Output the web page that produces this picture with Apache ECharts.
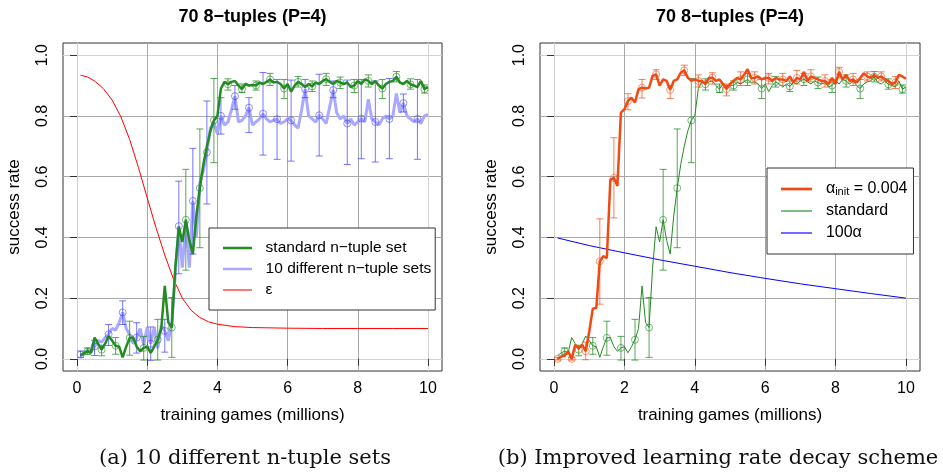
<!DOCTYPE html>
<html><head><meta charset="utf-8">
<script src="https://cdn.jsdelivr.net/npm/echarts@6/dist/echarts.min.js"></script>
<style>html,body{margin:0;padding:0;background:#fff}#c{width:943px;height:473px}</style>
</head><body><div id="c"></div><script>
// ---- data (training games in millions, success rate) ----
const gamesM = [0.1,0.2,0.3,0.4,0.5,0.6,0.7,0.8,0.9,1.0,
 1.1,1.2,1.3,1.4,1.5,1.6,1.7,1.8,1.9,2.0,
 2.1,2.2,2.3,2.4,2.5,2.6,2.7,2.8,2.9,3.0,
 3.1,3.2,3.3,3.4,3.5,3.6,3.7,3.8,3.9,4.0,
 4.1,4.2,4.3,4.4,4.5,4.6,4.7,4.8,4.9,5.0,
 5.1,5.2,5.3,5.4,5.5,5.6,5.7,5.8,5.9,6.0,
 6.1,6.2,6.3,6.4,6.5,6.6,6.7,6.8,6.9,7.0,
 7.1,7.2,7.3,7.4,7.5,7.6,7.7,7.8,7.9,8.0,
 8.1,8.2,8.3,8.4,8.5,8.6,8.7,8.8,8.9,9.0,
 9.1,9.2,9.3,9.4,9.5,9.6,9.7,9.8,9.9,10.0];
const standardSet = [0.010,0.020,0.025,0.020,0.070,0.050,0.030,0.050,0.075,0.060,
 0.043,0.040,0.005,0.040,0.069,0.070,0.040,0.025,0.036,0.040,
 0.020,0.040,0.063,0.100,0.240,0.120,0.103,0.300,0.435,0.385,
 0.458,0.390,0.345,0.470,0.562,0.640,0.700,0.750,0.785,0.800,
 0.890,0.912,0.904,0.912,0.915,0.900,0.888,0.905,0.900,0.902,
 0.900,0.910,0.905,0.912,0.920,0.910,0.912,0.905,0.890,0.905,
 0.880,0.900,0.912,0.905,0.895,0.905,0.897,0.910,0.905,0.915,
 0.921,0.912,0.905,0.915,0.910,0.905,0.910,0.895,0.900,0.915,
 0.905,0.920,0.915,0.905,0.915,0.900,0.890,0.905,0.912,0.915,
 0.929,0.910,0.905,0.915,0.904,0.900,0.895,0.915,0.888,0.895];
const tenSets = [0.014,0.015,0.030,0.025,0.041,0.060,0.055,0.070,0.081,0.100,
 0.095,0.120,0.153,0.100,0.080,0.050,0.070,0.100,0.045,0.105,
 0.050,0.105,0.035,0.110,0.092,0.060,0.120,0.280,0.437,0.300,
 0.450,0.300,0.520,0.400,0.580,0.620,0.680,0.760,0.780,0.740,
 0.800,0.770,0.780,0.820,0.865,0.780,0.785,0.800,0.827,0.770,
 0.780,0.790,0.807,0.790,0.780,0.785,0.789,0.775,0.780,0.790,
 0.785,0.770,0.760,0.820,0.888,0.800,0.790,0.780,0.802,0.790,
 0.775,0.830,0.885,0.810,0.790,0.800,0.775,0.790,0.770,0.780,
 0.791,0.780,0.855,0.790,0.780,0.770,0.790,0.800,0.790,0.800,
 0.874,0.810,0.842,0.800,0.790,0.780,0.790,0.775,0.800,0.805];
const alphaInit = [0.000,0.008,0.010,0.025,0.000,0.046,0.035,0.046,0.025,0.090,
 0.165,0.168,0.321,0.338,0.332,0.590,0.596,0.569,0.811,0.822,
 0.849,0.860,0.844,0.888,0.893,0.890,0.893,0.932,0.937,0.900,
 0.920,0.915,0.886,0.915,0.920,0.942,0.950,0.926,0.915,0.920,
 0.915,0.915,0.905,0.925,0.926,0.915,0.920,0.905,0.888,0.905,
 0.915,0.925,0.920,0.935,0.954,0.925,0.925,0.930,0.920,0.925,
 0.925,0.915,0.925,0.920,0.920,0.915,0.930,0.910,0.925,0.920,
 0.945,0.915,0.930,0.925,0.920,0.915,0.915,0.905,0.925,0.905,
 0.945,0.920,0.935,0.915,0.920,0.910,0.925,0.940,0.930,0.925,
 0.935,0.925,0.930,0.920,0.915,0.905,0.910,0.935,0.930,0.922];

// error bars (marker positions)
const stdErrGames = [0.3,0.7,1.1,1.5,1.9,2.3,2.7,3.1,3.5,3.9,4.3,4.7,5.1,5.5,5.9,6.3,6.7,7.1,7.5,7.9,8.3,8.7,9.1,9.5,9.9];
const stdErrLo = [0.015,0.010,0.015,0.012,-0.004,-0.004,0.005,0.292,0.366,0.646,0.885,0.877,0.885,0.900,0.857,0.895,0.880,0.900,0.890,0.877,0.895,0.857,0.912,0.888,0.875];
const stdErrHi = [0.036,0.045,0.070,0.124,0.074,0.130,0.202,0.624,0.757,0.923,0.922,0.905,0.915,0.940,0.920,0.930,0.915,0.940,0.928,0.920,0.935,0.920,0.946,0.922,0.902];
const tenErrGames = [0.1,0.5,0.9,1.3,1.7,2.1,2.5,2.9,3.3,3.7,4.1,4.5,4.9,5.3,5.7,6.1,6.5,6.9,7.3,7.7,8.1,8.5,8.9,9.3,9.7];
const tenErrLo = [0.005,0.011,0.044,0.113,0.019,-0.005,0.022,0.280,0.345,0.510,0.740,0.822,0.745,0.671,0.657,0.651,0.860,0.668,0.860,0.640,0.659,0.648,0.659,0.813,0.657];
const tenErrHi = [0.026,0.061,0.113,0.191,0.119,0.105,0.130,0.585,0.693,0.849,0.860,0.900,0.860,0.943,0.920,0.918,0.920,0.937,0.915,0.918,0.920,0.915,0.923,0.872,0.920];
const aErrGames = [0.1,0.5,0.9,1.3,1.7,2.1,2.5,2.9,3.3,3.7,4.1,4.5,4.9,5.3,5.7,6.1,6.5,6.9,7.3,7.7,8.1,8.5,8.9,9.3,9.7];
const aErrLo = [-0.004,-0.004,-0.003,0.180,0.464,0.820,0.859,0.920,0.857,0.933,0.895,0.905,0.866,0.900,0.905,0.905,0.900,0.905,0.912,0.895,0.925,0.900,0.915,0.915,0.890];
const aErrHi = [0.004,0.004,0.055,0.461,0.728,0.873,0.920,0.952,0.900,0.967,0.935,0.942,0.905,0.945,0.945,0.940,0.940,0.950,0.952,0.935,0.960,0.940,0.945,0.945,0.930];

// exploration rate epsilon (left) and 100*alpha (right)
const epsGames = [0.1,0.3,0.5,0.75,1.0,1.25,1.5,1.75,2.0,2.25,2.5,2.75,3.0,3.25,3.5,3.75,4.0,4.5,5.0,6.0,7.0,8.0,9.0,10.0];
const epsValues = [0.934,0.928,0.915,0.890,0.852,0.797,0.722,0.630,0.530,0.432,0.342,0.262,0.200,0.160,0.136,0.122,0.114,0.106,0.103,0.101,0.100,0.100,0.100,0.100];
const alphaGames = [0.1,1,2,3,4,5,6,7,8,9,10];
const alpha100 = [0.398,0.373,0.349,0.326,0.305,0.284,0.265,0.247,0.231,0.215,0.200];

const xTicks = [0,2,4,6,8,10];
const yTicks = [0,0.2,0.4,0.6,0.8,1.0];

// ---- helpers ----
const FONT = '"Liberation Sans", Arial, Helvetica, sans-serif';
const zip = (xs, ys) => xs.map((x, i) => [x, ys[i]]);
const valAt = (arr, x) => arr[gamesM.findIndex(g => Math.abs(g - x) < 1e-9)];
const markers = (arr, xs) => xs.map(x => [x, valAt(arr, x)]);
const errData = (xs, lo, hi) => xs.map((x, i) => [x, lo[i], hi[i]]);

function errRender(color) {
  return function (params, api) {
    const x = api.value(0), lo = api.value(1), hi = api.value(2);
    const a = api.coord([x, lo]), b = api.coord([x, hi]);
    const w = 3.5;
    const st = {stroke: color, lineWidth: 1, fill: null};
    return {type: 'group', children: [
      {type: 'line', shape: {x1: a[0], y1: a[1], x2: b[0], y2: b[1]}, style: st},
      {type: 'line', shape: {x1: a[0] - w, y1: a[1], x2: a[0] + w, y2: a[1]}, style: st},
      {type: 'line', shape: {x1: b[0] - w, y1: b[1], x2: b[0] + w, y2: b[1]}, style: st}
    ]};
  };
}
function errSeries(name, gi, xs, lo, hi, color, z) {
  return {name, type: 'custom', xAxisIndex: gi, yAxisIndex: gi, z, silent: true,
    renderItem: errRender(color), encode: {x: 0, y: [1, 2]}, data: errData(xs, lo, hi)};
}
function markerSeries(name, gi, data, color, z) {
  return {name, type: 'scatter', xAxisIndex: gi, yAxisIndex: gi, z, silent: true,
    symbol: 'circle', symbolSize: 7,
    itemStyle: {color: 'rgba(0,0,0,0)', borderColor: color, borderWidth: 1}, data};
}
function lineSeries(name, gi, data, color, width, z, extra) {
  return Object.assign({name, type: 'line', xAxisIndex: gi, yAxisIndex: gi, z, silent: true,
    symbol: 'none', showSymbol: false, color: color,
    lineStyle: {color, width}, data}, extra || {});
}

const gridCol = ['#d3d3d3', '#a8a8a8', '#a8a8a8', '#a8a8a8', '#a8a8a8', '#d3d3d3'];
function xAxisCfg(gi) {
  return {type: 'value', gridIndex: gi, min: -0.4, max: 10.4,
    name: 'training games (millions)', nameLocation: 'middle', nameGap: 36,
    nameTextStyle: {fontFamily: FONT, fontSize: 17, color: '#000'},
    axisLine: {show: false},
    axisTick: {show: true, customValues: xTicks, length: 7, lineStyle: {color: '#333'}},
    axisLabel: {customValues: xTicks, margin: 10, fontFamily: FONT, fontSize: 16, color: '#000'},
    splitLine: {show: true, lineStyle: {color: gridCol, width: 1}}};
}
function yAxisCfg(gi) {
  return {type: 'value', gridIndex: gi, min: -0.04, max: 1.04,
    name: 'success rate', nameLocation: 'middle', nameGap: 40,
    nameTextStyle: {fontFamily: FONT, fontSize: 17, color: '#000'},
    axisLine: {show: false},
    axisTick: {show: true, customValues: yTicks, length: 7, lineStyle: {color: '#333'}},
    axisLabel: {customValues: yTicks, margin: 12, rotate: 90, fontFamily: FONT, fontSize: 16, color: '#000',
      formatter: v => v.toFixed(1)},
    splitLine: {show: true, lineStyle: {color: gridCol, width: 1}}};
}

const GREEN = '#228B22', GREEN_E = 'rgba(34,139,34,0.75)';
const LBLUE = '#a9a9ff', BLUE_E = 'rgba(60,60,255,0.7)';
const ORANGE = '#f04a12', ORANGE_E = 'rgba(240,74,18,0.7)';
const THICK = 'path://M0,0H30V2.6H0Z', THIN = 'path://M0,0H30V1.1H0Z';

const titleStyle = {fontFamily: FONT, fontWeight: 'bold', fontSize: 18, color: '#000'};
const capStyle = {fontFamily: '"DejaVu Serif", "Liberation Serif", serif', fontWeight: 'normal', fontSize: 21, color: '#111'};

const option = {
  animation: false,
  backgroundColor: '#fff',
  title: [
    {text: '70 8−tuples (P=4)', left: 252.5, top: 8, textAlign: 'center', padding: 0, textStyle: titleStyle},
    {text: '70 8−tuples (P=4)', left: 730, top: 8, textAlign: 'center', padding: 0, textStyle: titleStyle},
    {text: '(a) 10 different n-tuple sets', left: 245, top: 448, textAlign: 'center', padding: 0, textStyle: capStyle},
    {text: '(b) Improved learning rate decay scheme', left: 718, top: 448, textAlign: 'center', padding: 0, textStyle: capStyle}
  ],
  grid: [
    {left: 63, top: 43, width: 379, height: 328, show: true, borderColor: '#333', borderWidth: 1, backgroundColor: 'transparent'},
    {left: 540, top: 43, width: 380, height: 328, show: true, borderColor: '#333', borderWidth: 1, backgroundColor: 'transparent'}
  ],
  xAxis: [xAxisCfg(0), xAxisCfg(1)],
  yAxis: [yAxisCfg(0), yAxisCfg(1)],
  legend: [
    {data: [{name: 'standard n−tuple set', icon: THICK}, {name: '10 different n−tuple sets', icon: THICK}, {name: 'ε', icon: THIN}],
      orient: 'vertical', symbolKeepAspect: true,
      left: 209, top: 228, padding: [12, 4, 12, 14], itemWidth: 29, itemHeight: 14, itemGap: 5,
      borderColor: '#333', borderWidth: 1, borderRadius: 0, backgroundColor: '#fff', z: 20,
      selectedMode: false, textStyle: {fontFamily: FONT, fontSize: 15.5, color: '#000'},
      formatter: n => '  ' + n},
    {data: [{name: 'alpha_init', icon: THICK}, {name: 'standard', icon: THIN}, {name: '100α', icon: THIN}],
      orient: 'vertical', symbolKeepAspect: true,
      left: 767, top: 168, padding: [13, 6, 13, 14], itemWidth: 31, itemHeight: 14, itemGap: 6,
      borderColor: '#333', borderWidth: 1, borderRadius: 0, backgroundColor: '#fff', z: 20,
      selectedMode: false,
      textStyle: {fontFamily: FONT, fontSize: 16, color: '#000',
        rich: {a: {fontFamily: FONT, fontSize: 16, lineHeight: 16, color: '#000'},
               s: {fontFamily: FONT, fontSize: 11, lineHeight: 9, verticalAlign: 'bottom', color: '#000'}}},
      formatter: n => n === 'alpha_init' ? '  {a|α}{s|init}{a| = 0.004}' : '  ' + n}
  ],
  series: [
    // left panel
    lineSeries('ε', 0, zip(epsGames, epsValues), '#ff0000', 1, 2),
    lineSeries('10 different n−tuple sets', 0, zip(gamesM, tenSets), LBLUE, 3, 3),
    errSeries('tenErr', 0, tenErrGames, tenErrLo, tenErrHi, BLUE_E, 4),
    markerSeries('tenMk', 0, markers(tenSets, tenErrGames), BLUE_E, 4),
    lineSeries('standard n−tuple set', 0, zip(gamesM, standardSet), GREEN, 2.5, 5),
    errSeries('stdErr', 0, stdErrGames, stdErrLo, stdErrHi, GREEN_E, 6),
    markerSeries('stdMk', 0, markers(standardSet, stdErrGames), GREEN_E, 6),
    // right panel
    lineSeries('100α', 1, zip(alphaGames, alpha100), '#0000ff', 1, 2),
    lineSeries('standard', 1, zip(gamesM, standardSet), GREEN, 1, 3),
    errSeries('stdErrR', 1, stdErrGames, stdErrLo, stdErrHi, GREEN_E, 4),
    markerSeries('stdMkR', 1, markers(standardSet, stdErrGames), GREEN_E, 4),
    lineSeries('alpha_init', 1, zip(gamesM, alphaInit), ORANGE, 2.5, 5),
    errSeries('aErr', 1, aErrGames, aErrLo, aErrHi, ORANGE_E, 6),
    markerSeries('aMk', 1, markers(alphaInit, aErrGames), ORANGE_E, 6)
  ]
};
const chart = echarts.init(document.getElementById('c'), null, {renderer: 'canvas'});
chart.setOption(option);
</script></body></html>
